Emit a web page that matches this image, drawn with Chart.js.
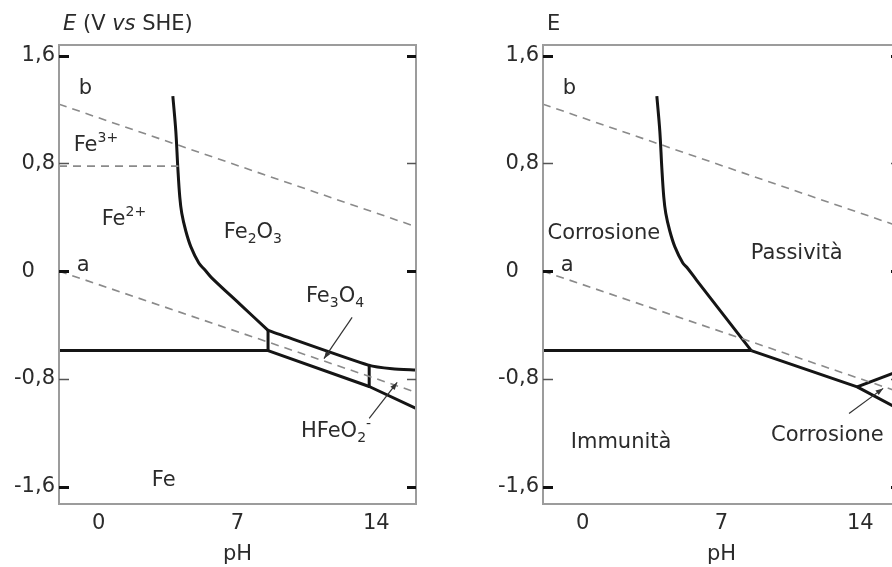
<!DOCTYPE html>
<html>
<head>
<meta charset="utf-8">
<script src="https://cdn.jsdelivr.net/npm/chart.js@4.4.1/dist/chart.umd.min.js"></script>
<style>
html, body { margin: 0; padding: 0; background: #fff; width: 892px; height: 567px; overflow: hidden; position: relative; }
canvas { position: absolute; top: 0; }
#left { left: 0; }
#right { left: 484px; }
</style>
</head>
<body>
<canvas id="left" width="446" height="567"></canvas>
<canvas id="right" width="446" height="567"></canvas>
<script>
// axes
const phTicks = [0, 7, 14];
const eTicks = [1.6, 0.8, 0, -0.8, -1.6];
const phMin = -2, phMax = 16;
const eMin = -1.73, eMax = 1.68;

// water stability lines a and b (dashed)
const aPh = [-2, 16];
const aE = [0.0, -0.9];
const bPh = [-2, 16];
const bE = [1.24, 0.33];

// Fe3+/Fe2+ (dashed, left only)
const fe3Ph = [-2, 4.02];
const fe3E = [0.78, 0.78];

// Fe2+ / Fe2O3 boundary, curved top part (both panels)
const curvePh = [3.74, 3.89, 3.99, 4.09, 4.19, 4.39, 4.65, 5.05];
const curveE = [1.30, 1.04, 0.77, 0.55, 0.43, 0.30, 0.18, 0.06];

// left panel: rest of the curve and solid boundaries
const tailLeftPh = [5.35, 5.7, 7.12, 8.54];
const tailLeftE = [0.01, -0.05, -0.245, -0.44];
const feLeftPh = [-2, 8.54];
const feLeftE = [-0.59, -0.59];
const bandTopPh = [8.54, 13.64, 14.8, 16];
const bandTopE = [-0.44, -0.70, -0.725, -0.735];
const bandLowPh = [8.54, 13.64, 16];
const bandLowE = [-0.59, -0.857, -1.02];
const vert1Ph = [8.54, 8.54];
const vert1E = [-0.44, -0.59];
const vert2Ph = [13.64, 13.64];
const vert2E = [-0.70, -0.857];

// right panel: rest of the curve and solid boundaries
const tailRightPh = [5.3, 5.76, 7.13, 8.5];
const tailRightE = [0.02, -0.07, -0.33, -0.59];
const feRightPh = [-2, 8.5];
const feRightE = [-0.59, -0.59];
const lowRightPh = [8.5, 13.84, 16];
const lowRightE = [-0.59, -0.86, -1.03];
const upRightPh = [13.84, 16];
const upRightE = [-0.86, -0.74];

const pts = (xs, ys) => xs.map((v, i) => ({ x: v, y: ys[i] }));
const fmt = v => v === 0 ? '0   ' : v.toFixed(1).replace('.', ',');

function solid(xs, ys, tension) {
  return { data: pts(xs, ys), borderColor: '#151515', borderWidth: 3, pointRadius: 0,
    showLine: true, fill: false, tension: tension || 0, borderJoinStyle: 'round' };
}
function dashed(xs, ys) {
  return { data: pts(xs, ys), borderColor: '#8a8a8a', borderWidth: 1.6, borderDash: [8, 6],
    pointRadius: 0, showLine: true, fill: false };
}

const FONT = 'DejaVu Sans';

function drawRich(ctx, x, y, parts) {
  let cx = x;
  parts.forEach(p => {
    const kind = p[1] || '';
    const small = kind === 'sub' || kind === 'sup';
    const italic = kind === 'i';
    ctx.font = (italic ? 'italic ' : '') + (small ? '14px ' : '21px ') + FONT;
    const dy = kind === 'sub' ? 7 : kind === 'sup' ? -7 : 0;
    ctx.fillText(p[0], cx, y + dy);
    cx += ctx.measureText(p[0]).width;
  });
}

const frame = {
  id: 'frame',
  afterDraw(chart, args, opts) {
    const { ctx, chartArea: a, scales: { x, y } } = chart;
    ctx.save();
    ctx.strokeStyle = '#9c9c9c';
    ctx.lineWidth = 2;
    ctx.strokeRect(a.left, a.top, a.right - a.left, a.bottom - a.top);
    eTicks.forEach(v => {
      const py = Math.round(y.getPixelForValue(v)) + 0.5;
      const bold = v !== 0.8 && v !== -0.8;
      ctx.strokeStyle = bold ? '#111' : '#555';
      ctx.lineWidth = bold ? 3 : 1.5;
      ctx.beginPath();
      ctx.moveTo(a.left, py); ctx.lineTo(a.left + 10, py);
      ctx.moveTo(a.right - 9, py); ctx.lineTo(a.right, py);
      ctx.stroke();
    });
    // arrows
    ctx.strokeStyle = '#333';
    ctx.fillStyle = '#333';
    ctx.lineWidth = 1.2;
    (opts.arrows || []).forEach(ar => {
      const x0 = x.getPixelForValue(ar[0]), y0 = y.getPixelForValue(ar[1]);
      const x1 = x.getPixelForValue(ar[2]), y1 = y.getPixelForValue(ar[3]);
      const ang = Math.atan2(y1 - y0, x1 - x0);
      ctx.beginPath(); ctx.moveTo(x0, y0); ctx.lineTo(x1, y1); ctx.stroke();
      ctx.beginPath();
      ctx.moveTo(x1, y1);
      ctx.lineTo(x1 - 8 * Math.cos(ang - 0.35), y1 - 8 * Math.sin(ang - 0.35));
      ctx.lineTo(x1 - 8 * Math.cos(ang + 0.35), y1 - 8 * Math.sin(ang + 0.35));
      ctx.closePath(); ctx.fill();
    });
    // region labels
    ctx.fillStyle = '#2b2b2b';
    ctx.textAlign = 'left';
    ctx.textBaseline = 'middle';
    (opts.labels || []).forEach(l => {
      drawRich(ctx, x.getPixelForValue(l.x), y.getPixelForValue(l.y), l.parts);
    });
    // axis title on top
    drawRich(ctx, 63, 25, opts.title);
    ctx.restore();
  }
};

function makeChart(id, datasets, labels, arrows, title) {
  return new Chart(document.getElementById(id), {
    type: 'scatter',
    data: { datasets },
    options: {
      responsive: false,
      animation: false,
      layout: { padding: { top: 45, right: 30, bottom: 0, left: 0 } },
      plugins: {
        legend: { display: false },
        tooltip: { enabled: false },
        frame: { labels, arrows, title }
      },
      scales: {
        x: {
          type: 'linear', min: phMin, max: phMax,
          grid: { display: false, drawTicks: false },
          border: { display: false },
          afterBuildTicks: s => { s.ticks = phTicks.map(v => ({ value: v })); },
          afterFit: s => { s.height = 63; },
          ticks: { color: '#2b2b2b', font: { family: FONT, size: 21 }, padding: 7, maxRotation: 0 },
          title: { display: true, text: 'pH', color: '#2b2b2b', font: { family: FONT, size: 21 }, padding: { top: 0, bottom: 0 } }
        },
        y: {
          type: 'linear', min: eMin, max: eMax,
          grid: { display: false, drawTicks: false },
          border: { display: false },
          afterBuildTicks: s => { s.ticks = eTicks.map(v => ({ value: v })); },
          afterFit: s => { s.width = 59; },
          ticks: { color: '#2b2b2b', font: { family: FONT, size: 21 }, padding: 4, callback: v => fmt(v) }
        }
      }
    },
    plugins: [frame]
  });
}

makeChart('left', [
  dashed(bPh, bE),
  dashed(aPh, aE),
  dashed(fe3Ph, fe3E),
  solid(curvePh.concat(tailLeftPh), curveE.concat(tailLeftE), 0.35),
  solid(feLeftPh, feLeftE),
  solid(bandTopPh, bandTopE, 0.2),
  solid(bandLowPh, bandLowE),
  solid(vert1Ph, vert1E),
  solid(vert2Ph, vert2E)
], [
  { x: -1.01, y: 1.355, parts: [['b']] },
  { x: -1.26, y: 0.935, parts: [['Fe'], ['3+', 'sup']] },
  { x: 0.15, y: 0.383, parts: [['Fe'], ['2+', 'sup']] },
  { x: 6.31, y: 0.287, parts: [['Fe'], ['2', 'sub'], ['O'], ['3', 'sub']] },
  { x: -1.11, y: 0.04, parts: [['a']] },
  { x: 10.45, y: -0.19, parts: [['Fe'], ['3', 'sub'], ['O'], ['4', 'sub']] },
  { x: 10.2, y: -1.19, parts: [['HFeO'], ['2', 'sub'], ['-', 'sup']] },
  { x: 2.68, y: -1.555, parts: [['Fe']] }
], [
  [12.78, -0.344, 11.36, -0.65],
  [13.64, -1.094, 15.05, -0.827]
], [['E', 'i'], [' (V '], ['vs', 'i'], [' SHE)']]);

makeChart('right', [
  dashed(bPh, bE),
  dashed(aPh, aE),
  solid(curvePh.concat(tailRightPh), curveE.concat(tailRightE), 0.35),
  solid(feRightPh, feRightE),
  solid(lowRightPh, lowRightE),
  solid(upRightPh, upRightE)
], [
  { x: -1.01, y: 1.355, parts: [['b']] },
  { x: -1.11, y: 0.04, parts: [['a']] },
  { x: -1.77, y: 0.28, parts: [['Corrosione']] },
  { x: 8.48, y: 0.13, parts: [['Passività']] },
  { x: -0.6, y: -1.27, parts: [['Immunità']] },
  { x: 9.5, y: -1.22, parts: [['Corrosione']] }
], [
  [13.43, -1.057, 15.15, -0.871]
], [['E']]);
</script>
</body>
</html>
